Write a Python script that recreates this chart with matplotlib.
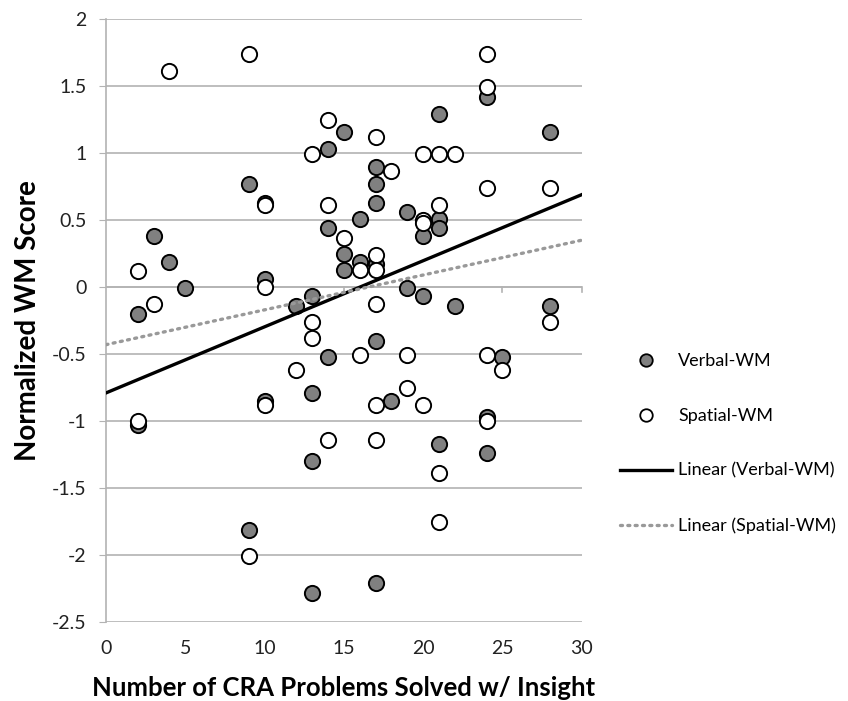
import matplotlib
matplotlib.use("Agg")
import matplotlib.pyplot as plt
from matplotlib.lines import Line2D

plt.rcParams["font.family"] = ["Lato", "DejaVu Sans"]

# Verbal-WM scores (filled gray)
verbal_x = [2, 2, 3, 4, 5, 9, 9, 10, 10, 10, 12, 13, 13, 13, 13, 14, 14, 14,
            15, 15, 15, 16, 16, 17, 17, 17, 17, 17, 17, 18, 19, 19, 20, 20,
            21, 21, 21, 21, 22, 24, 24, 24, 25, 28, 28]
verbal_y = [-0.20, -1.03, 0.38, 0.19, -0.01, 0.77, -1.81, 0.63, 0.06, -0.85,
            -0.14, -0.07, -0.79, -1.30, -2.28, 1.03, 0.44, -0.52,
            1.16, 0.25, 0.13, 0.51, 0.19, 0.90, 0.77, 0.63, 0.17, -0.40, -2.21,
            -0.85, 0.56, -0.01, 0.38, -0.07,
            1.29, 0.51, 0.44, -1.17, -0.14, 1.42, -0.97, -1.24, -0.52, 1.16, -0.14]

# Spatial-WM scores (open white)
spatial_x = [2, 2, 3, 4, 9, 9, 10, 10, 10, 12, 13, 13, 13, 14, 14, 14, 15,
             16, 16, 17, 17, 17, 17, 17, 17, 18, 19, 19, 20, 20, 20, 20,
             21, 21, 21, 21, 22, 24, 24, 24, 24, 24, 25, 28, 28]
spatial_y = [0.12, -1.00, -0.13, 1.61, 1.74, -2.01, 0.61, 0.00, -0.88, -0.62,
             0.99, -0.26, -0.38, 1.25, 0.61, -1.14, 0.37,
             0.13, -0.51, 1.12, 0.24, 0.13, -0.13, -0.88, -1.14, 0.87, -0.51, -0.75,
             0.99, 0.50, 0.48, -0.88,
             0.99, 0.61, -1.39, -1.75, 0.99, 1.74, 1.49, 0.74, -0.51, -1.00,
             -0.62, 0.74, -0.26]

# Linear trend lines (values at x = 0 and x = 30)
trend_x = [0, 30]
trend_verbal = [-0.79, 0.69]
trend_spatial = [-0.43, 0.35]

y_ticks = [-2.5, -2, -1.5, -1, -0.5, 0, 0.5, 1, 1.5, 2]
y_labels = ["-2.5", "-2", "-1.5", "-1", "-0.5", "0", "0.5", "1", "1.5", "2"]
x_ticks = [0, 5, 10, 15, 20, 25, 30]

fig = plt.figure(figsize=(8.48, 7.01), dpi=100)
ax = fig.add_axes([0.125, 0.1127, 0.561, 0.860])

grid_col = "#b3b3b3"
for yv in y_ticks:
    ax.axhline(yv, color=grid_col, lw=1.2, zorder=0)

ax.scatter(verbal_x, verbal_y, s=120, c="#808080", edgecolors="black",
           linewidths=1.4, zorder=3)
ax.scatter(spatial_x, spatial_y, s=120, c="white", edgecolors="black",
           linewidths=1.4, zorder=3)

ax.plot(trend_x, trend_verbal, color="black", lw=2.4, zorder=4)
ax.plot(trend_x, trend_spatial, color="#999999", lw=2.4, ls=(0, (0.6, 1.6)),
        dash_capstyle="round", zorder=4)

ax.set_xlim(0, 30)
ax.set_ylim(-2.5, 2)

# Excel-style: horizontal axis crosses at y = 0, labels stay at the bottom
for s in ["top", "right", "bottom"]:
    ax.spines[s].set_visible(False)
ax.spines["left"].set_color(grid_col)
ax.spines["left"].set_linewidth(1.2)
ax.axhline(0, color=grid_col, lw=1.2, zorder=1)
for xv in x_ticks[1:]:
    ax.plot([xv, xv], [0, -0.035], color=grid_col, lw=1.2, zorder=1,
            clip_on=False)

ax.set_yticks(y_ticks)
ax.set_yticklabels(y_labels)
ax.set_xticks(x_ticks)
ax.tick_params(axis="y", length=5, color=grid_col, labelsize=14, pad=9,
               labelcolor="#222222")
ax.tick_params(axis="x", length=0, labelsize=14, pad=13, labelcolor="#222222")

ax.set_xlabel("Number of CRA Problems Solved w/ Insight", fontsize=18.5,
              fontweight="bold", labelpad=14)
ax.set_ylabel("Normalized WM Score", fontsize=20, fontweight="bold",
              labelpad=8)

handles = [
    Line2D([], [], ls="none", marker="o", ms=9, mfc="#808080", mec="black",
           mew=1.3),
    Line2D([], [], ls="none", marker="o", ms=9, mfc="white", mec="black",
           mew=1.3),
    Line2D([], [], color="black", lw=2.4),
    Line2D([], [], color="#999999", lw=2.4, ls=(0, (0.6, 1.6)),
           dash_capstyle="round"),
]
labels = ["Verbal-WM", "Spatial-WM", "Linear (Verbal-WM)", "Linear (Spatial-WM)"]
fig.legend(handles, labels, loc="center left", bbox_to_anchor=(0.731, 0.367),
           frameon=False, fontsize=13, handlelength=2.9, handletextpad=0.33,
           labelspacing=2.15, borderpad=0, borderaxespad=0)

fig.savefig("out.png", dpi=100)
